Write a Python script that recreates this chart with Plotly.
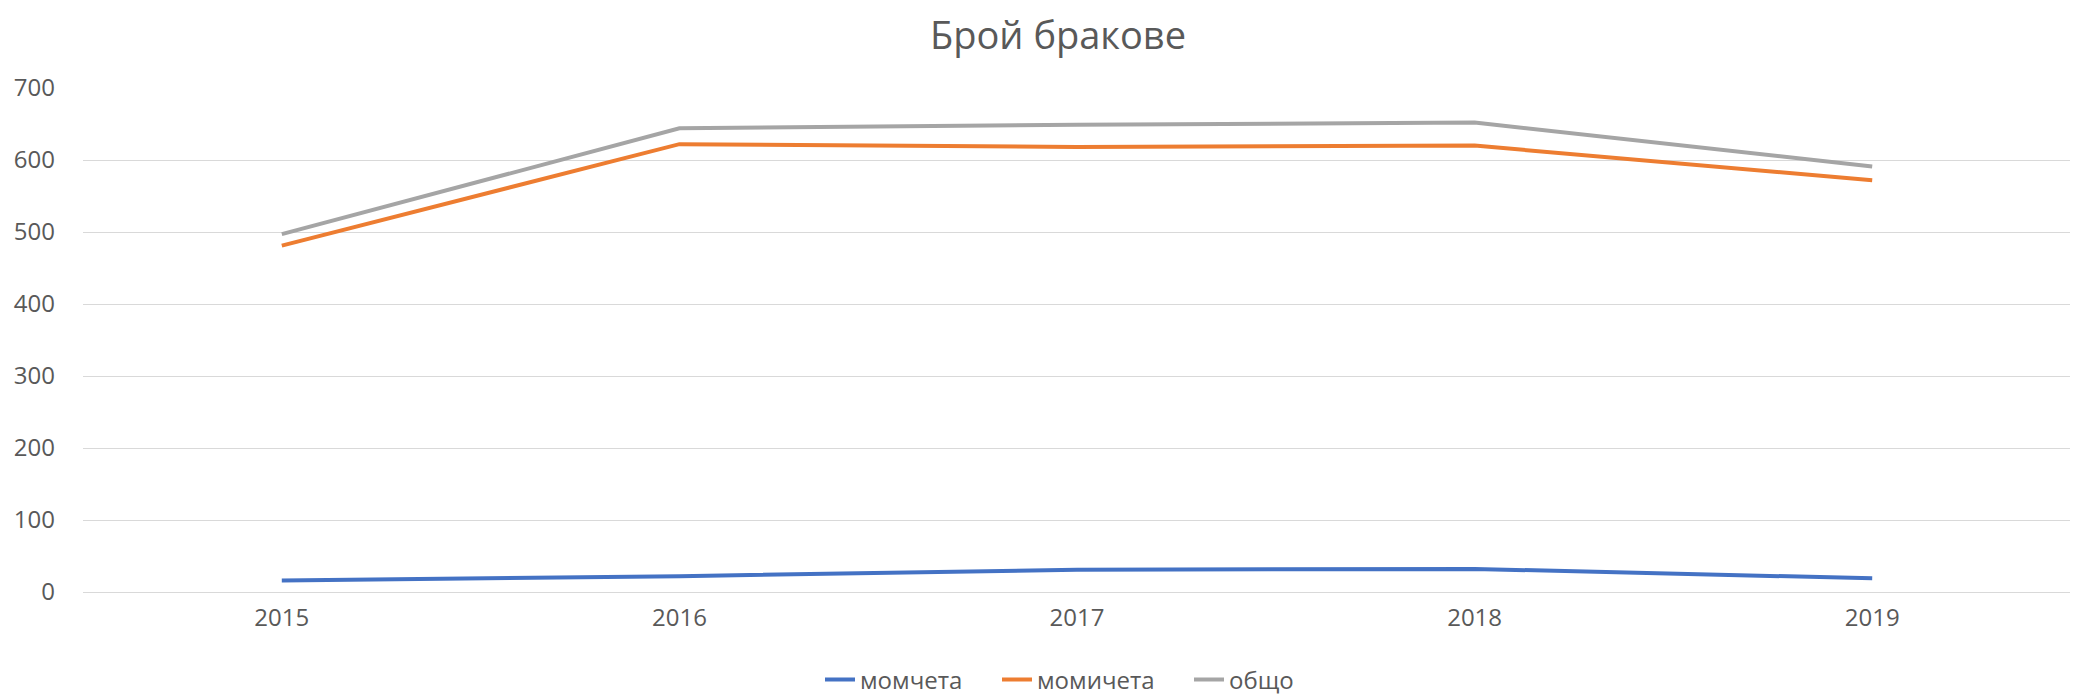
import plotly.graph_objects as go

years = ["2015", "2016", "2017", "2018", "2019"]
boys = [16, 22, 31, 32, 19]
girls = [481, 622, 618, 620, 572]
total = [497, 644, 649, 652, 591]

series_names = ["момчета", "момичета", "общо"]
colors = ["#4472C4", "#ED7D31", "#A5A5A5"]
legend_widths = [132, 147, 70]
y_ticks = [0, 100, 200, 300, 400, 500, 600, 700]

FONT = "Open Sans"
TXT = "#595959"
# page body has an 8px default margin; the figure is sized to fit the window
W, H, OFF = 2070, 689, 8

fig = go.Figure()
for name, vals, col, lw in zip(series_names, [boys, girls, total], colors, legend_widths):
    fig.add_trace(go.Scatter(x=years, y=vals, name=name, mode="lines",
                             legendwidth=lw,
                             line=dict(color=col, width=4)))

fig.update_layout(
    width=W, height=H,
    margin=dict(l=83 - OFF, r=7, t=88 - OFF, b=105),
    paper_bgcolor="white", plot_bgcolor="white",
    font=dict(family=FONT, color=TXT, size=24),
    title=dict(text="Брой бракове", x=(1058 - OFF) / W, xref="container", xanchor="center",
               y=1 - (36 - OFF) / H, yref="container", yanchor="middle",
               font=dict(family=FONT, size=38, color=TXT)),
    legend=dict(orientation="h", x=(1062 - OFF) / W, xanchor="center", xref="container",
                y=1 - (680 - OFF) / H, yref="container", yanchor="middle",
                font=dict(family=FONT, size=24, color=TXT),
                itemwidth=30, tracegroupgap=0),
    xaxis=dict(type="category", range=[-0.5, 4.5], showgrid=False, showline=True,
               linecolor="#D9D9D9", linewidth=1, ticks="outside", ticklen=4,
               tickcolor="rgba(0,0,0,0)",
               tickfont=dict(family=FONT, size=24, color=TXT), zeroline=False),
    yaxis=dict(range=[0, 700], tickvals=y_ticks, showgrid=True, gridcolor="#D9D9D9",
               gridwidth=1, zeroline=False, showline=False, ticks="",
               ticklabelstandoff=27,
               tickfont=dict(family=FONT, size=24, color=TXT)),
)

fig.write_html("out.html")
